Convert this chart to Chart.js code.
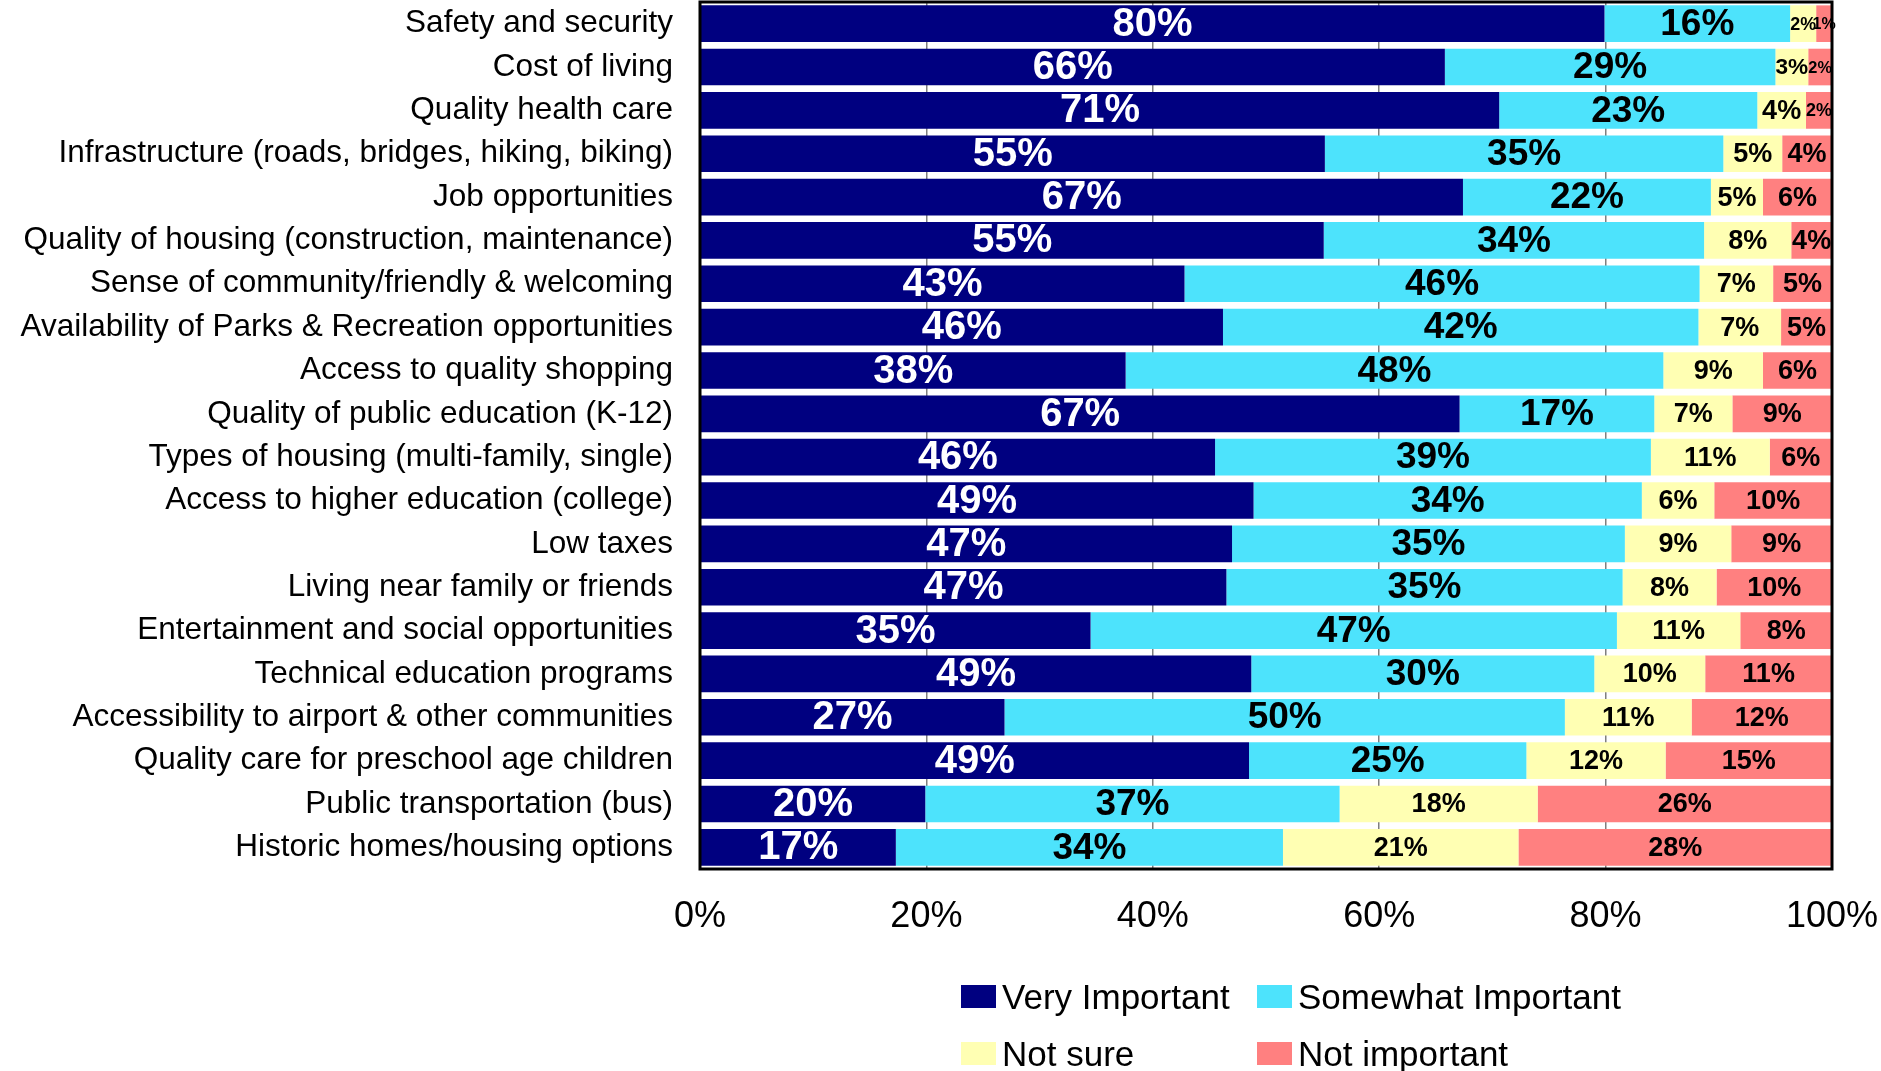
<!DOCTYPE html>
<html>
<head>
<meta charset="utf-8">
<script src="https://cdn.jsdelivr.net/npm/chart.js@4.4.1/dist/chart.umd.min.js"></script>
<style>
    body { margin: 0; background: #fff; }
    #wrap { position: relative; width: 1881px; height: 1071px; }
    #legend {
        position: absolute; left: 961px; top: 968px;
        display: grid; grid-template-columns: 296px 340px; grid-auto-rows: 57px;
        font-family: "Liberation Sans", Arial, sans-serif; font-size: 35px; color: #000;
    }
    .item { display: flex; align-items: center; white-space: nowrap; }
    .box { width: 35px; height: 23px; margin-right: 6px; flex: none; }
</style>
</head>
<body>
<div id="wrap">
    <canvas id="myChart"></canvas>
    <div id="legend"></div>
</div>
<script>
const categories = [
    'Safety and security',
    'Cost of living',
    'Quality health care',
    'Infrastructure (roads, bridges, hiking, biking)',
    'Job opportunities',
    'Quality of housing (construction, maintenance)',
    'Sense of community/friendly & welcoming',
    'Availability of Parks & Recreation opportunities',
    'Access to quality shopping',
    'Quality of public education (K-12)',
    'Types of housing (multi-family, single)',
    'Access to higher education (college)',
    'Low taxes',
    'Living near family or friends',
    'Entertainment and social opportunities',
    'Technical education programs',
    'Accessibility to airport & other communities',
    'Quality care for preschool age children',
    'Public transportation (bus)',
    'Historic homes/housing options'
];

const veryImportant     = [79.9, 65.8, 70.6, 55.2, 67.4, 55.1, 42.8, 46.2, 37.6, 67.1, 45.5, 48.9, 47.0, 46.5, 34.5, 48.7, 26.9, 48.5, 19.9, 17.3];
const somewhatImportant = [16.4, 29.2, 22.8, 35.2, 21.9, 33.6, 45.5, 42.0, 47.5, 17.2, 38.5, 34.3, 34.7, 35.0, 46.5, 30.3, 49.5, 24.5, 36.6, 34.2];
const notSure           = [2.3, 2.9, 4.3, 5.2, 4.6, 7.7, 6.5, 7.3, 8.8, 6.9, 10.5, 6.4, 9.4, 8.3, 10.9, 9.8, 11.2, 12.3, 17.5, 20.8];
const notImportant      = [1.4, 2.1, 2.3, 4.4, 6.1, 3.6, 5.2, 4.5, 6.1, 8.8, 5.5, 10.4, 8.9, 10.2, 8.1, 11.2, 12.4, 14.7, 26.0, 27.7];

const xTicks = [0, 20, 40, 60, 80, 100];

const seriesNames = ['Very Important', 'Somewhat Important', 'Not sure', 'Not important'];
const seriesColors = ['#000080', '#4de3fc', '#ffffb3', '#ff8080'];

const FONT = '"Liberation Sans", Arial, sans-serif';

// etiquetas dentro das barras
const barLabels = {
    id: 'barLabels',
    afterDatasetsDraw(chart) {
        const ctx = chart.ctx;
        ctx.save();
        chart.data.datasets.forEach((ds, i) => {
            const meta = chart.getDatasetMeta(i);
            meta.data.forEach((bar, j) => {
                const w = Math.abs(bar.x - bar.base);
                let size;
                if (i === 0) size = 40;
                else if (i === 1) size = 37;
                else size = Math.max(16, Math.min(27, w / 1.45));
                ctx.font = 'bold ' + size + 'px ' + FONT;
                ctx.fillStyle = i === 0 ? '#fff' : '#000';
                ctx.textAlign = 'center';
                ctx.textBaseline = 'middle';
                ctx.fillText(Math.round(ds.data[j]) + '%', (bar.x + bar.base) / 2, bar.y + 1);
            });
        });
        ctx.restore();
    }
};

// moldura preta da area do grafico
const plotBorder = {
    id: 'plotBorder',
    afterDraw(chart) {
        const a = chart.chartArea;
        const ctx = chart.ctx;
        ctx.save();
        ctx.strokeStyle = '#000';
        ctx.lineWidth = 3;
        ctx.strokeRect(a.left, a.top, a.right - a.left, a.bottom - a.top);
        ctx.restore();
    }
};

document.addEventListener('DOMContentLoaded', () => {
    const ctx = document.getElementById('myChart').getContext('2d');
    const values = [veryImportant, somewhatImportant, notSure, notImportant];

    const data = {
        labels: categories,
        datasets: values.map((arr, i) => ({
            label: seriesNames[i],
            data: arr,
            backgroundColor: seriesColors[i],
            borderWidth: 0,
            barPercentage: 0.845,
            categoryPercentage: 1
        }))
    };

    new Chart(ctx, {
        type: 'bar',
        data: data,
        options: {
            indexAxis: 'y',
            responsive: true,
            maintainAspectRatio: false,
            animation: false,
            layout: { padding: { top: 2, right: 49, bottom: 112, left: 0 } },
            plugins: {
                legend: { display: false },
                tooltip: { enabled: false }
            },
            scales: {
                x: {
                    stacked: true,
                    min: 0,
                    max: 100,
                    afterFit: (scale) => {
                        scale.height = 90;
                        scale.paddingLeft = 0;
                        scale.paddingRight = 0;
                    },
                    afterBuildTicks: (scale) => { scale.ticks = xTicks.map(v => ({ value: v })); },
                    ticks: {
                        padding: 26,
                        color: '#000',
                        font: { family: FONT, size: 36 },
                        callback: (v) => v + '%'
                    },
                    grid: {
                        drawTicks: false,
                        color: (c) => (c.tick && c.tick.value > 0 && c.tick.value < 100) ? '#7f7f7f' : 'rgba(0,0,0,0)',
                        lineWidth: 1.5
                    },
                    border: { display: false }
                },
                y: {
                    stacked: true,
                    afterFit: (scale) => {
                        scale.width = 700;
                        scale.paddingTop = 0;
                        scale.paddingBottom = 0;
                    },
                    ticks: {
                        autoSkip: false,
                        padding: 27,
                        color: '#000',
                        font: { family: FONT, size: 31.5 }
                    },
                    grid: { display: false, drawTicks: false },
                    border: { display: false }
                }
            }
        },
        plugins: [barLabels, plotBorder]
    });

    const legend = document.getElementById('legend');
    seriesNames.forEach((name, i) => {
        const item = document.createElement('div');
        item.className = 'item';
        item.innerHTML = '<span class="box" style="background:' + seriesColors[i] + '"></span><span>' + name + '</span>';
        legend.appendChild(item);
    });
});
</script>
</body>
</html>
